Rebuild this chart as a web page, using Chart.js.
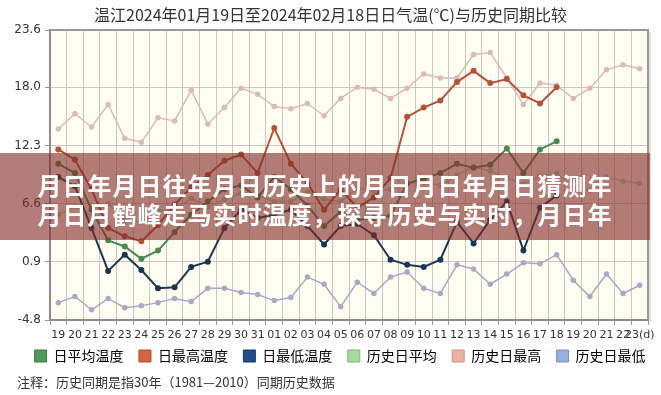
<!DOCTYPE html>
<html>
<head>
<meta charset="utf-8">
<script src="https://cdn.jsdelivr.net/npm/chart.js@4.4.1/dist/chart.umd.min.js"></script>
<style>
  body { margin: 0; background: #fff; }
  #wrap { position: relative; width: 661px; height: 395px; }
  #nota { position: absolute; left: 17px; top: 372px; font: 13px "Noto Sans CJK SC", sans-serif; color: #333; white-space: nowrap; }
  #banda { position: absolute; left: 0; top: 153px; width: 650px; height: 87px; box-sizing: border-box; padding-top: 17px;
           background: rgba(130, 45, 40, 0.62); color: #fff; font: bold 24px "Noto Sans CJK SC", sans-serif;
           line-height: 29px; text-align: center; letter-spacing: 1px; }
</style>
</head>
<body>
<div id="wrap">
  <canvas id="grafico" width="661" height="395"></canvas>
  <div id="banda">月日年月日往年月日历史上的月日月日年月日猜测年<br>月日月鹤峰走马实时温度，探寻历史与实时，月日年</div>
  <div id="nota">注释：历史同期是指30年（1981—2010）同期历史数据</div>
</div>
<script>
// dias: 19/01 .. 23/02
var dias = ['19', '20', '21', '22', '23', '24', '25', '26', '27', '28', '29', '30', '31',
    '01', '02', '03', '04', '05', '06', '07', '08', '09', '10', '11', '12', '13', '14', '15',
    '16', '17', '18', '19', '20', '21', '22', '23(d)'];
var yTicks = [-4.8, 0.9, 6.6, 12.3, 18.0, 23.6];

// 2024 (hasta 18/02)
var tempMedia = [10.5, 9.6, 6.0, 3.0, 2.4, 1.2, 2.0, 3.8, 5.5, 6.8, 8.0, 8.4, 7.2, 9.2, 8.0, 6.4,
    4.4, 5.8, 5.0, 5.2, 5.4, 8.6, 9.0, 9.6, 10.5, 10.1, 10.4, 12.0, 9.6, 11.9, 12.7];
var tempMax = [11.9, 10.9, 8.0, 4.2, 3.4, 2.9, 4.5, 6.5, 8.2, 9.4, 10.8, 11.4, 9.6, 14.0, 10.5, 8.6,
    6.0, 8.0, 6.2, 7.2, 9.1, 15.1, 16.0, 16.7, 18.5, 19.6, 18.4, 18.8, 17.2, 16.4, 18.0];
var tempMin = [9.2, 8.3, 4.2, 0.0, 1.6, 0.1, -1.7, -1.6, 0.4, 0.9, 4.2, 6.0, 5.2, 5.5, 6.0, 4.4,
    2.6, 4.4, 4.6, 3.5, 1.1, 0.6, 0.4, 1.1, 4.8, 2.7, 5.0, 6.8, 2.0, 6.2, 7.4];

// historico 1981-2010
var histMedia = [5.5, 6.3, 5.4, 6.6, 5.0, 4.8, 5.9, 6.0, 7.1, 6.3, 7.0, 7.6, 7.4, 6.8, 6.8, 7.7,
    7.0, 6.8, 8.1, 7.8, 8.0, 8.6, 8.7, 8.4, 9.4, 10.2, 9.8, 9.1, 8.5, 9.3, 9.6, 8.2, 7.9, 9.2, 8.8, 8.6];
var histMax = [13.9, 15.4, 14.1, 16.3, 13.0, 12.6, 15.0, 14.7, 17.7, 14.4, 16.0, 17.9, 17.3, 16.1, 15.9, 16.4,
    15.2, 16.9, 18.0, 17.8, 16.9, 17.9, 19.3, 18.9, 18.9, 21.2, 21.4, 18.9, 16.3, 18.4, 18.2, 16.9, 17.9, 19.7, 20.2, 19.8];
var histMin = [-3.1, -2.5, -3.8, -2.7, -3.6, -3.4, -3.1, -2.7, -3.0, -1.7, -1.7, -2.1, -2.3, -2.9, -2.6, -0.6,
    -1.3, -3.5, -1.1, -2.2, -0.6, -0.1, -1.7, -2.2, 0.6, 0.2, -1.3, -0.3, 0.8, 0.7, 1.6, -0.9, -2.5, -0.3, -2.2, -1.4];

var cajas = ['#4e9a5a', '#d4643f', '#1f4d8c', '#a8d8a0', '#eeb0a0', '#98b0e0'];
var bordes = ['#3d7a47', '#b04e2e', '#163a6a', '#7fb878', '#d09080', '#7890c0'];

function serie(nombre, datos, color, ancho, orden) {
    return {
        label: nombre,
        data: datos,
        borderColor: color,
        backgroundColor: color,
        borderWidth: ancho,
        pointRadius: 2,
        pointHoverRadius: 3,
        tension: 0,
        order: orden
    };
}

// fondo crema y marco del area
var marco = {
    id: 'marco',
    beforeDraw: function (chart) {
        var a = chart.chartArea, ctx = chart.ctx;
        ctx.save();
        ctx.fillStyle = '#fffdf2';
        ctx.fillRect(a.left, a.top, a.right - a.left, a.bottom - a.top);
        ctx.restore();
    },
    afterDraw: function (chart) {
        var a = chart.chartArea, ctx = chart.ctx;
        ctx.save();
        ctx.strokeStyle = '#999';
        ctx.lineWidth = 2;
        ctx.beginPath();
        ctx.moveTo(a.left, a.top);
        ctx.lineTo(a.right, a.top);
        ctx.lineTo(a.right, a.bottom);
        ctx.stroke();
        ctx.strokeStyle = 'rgba(0,0,0,0.12)';
        ctx.beginPath();
        ctx.moveTo(a.right + 2, a.top + 2);
        ctx.lineTo(a.right + 2, a.bottom + 2);
        ctx.stroke();
        ctx.restore();
    }
};

var ctx = document.getElementById('grafico').getContext('2d');
var myChart = new Chart(ctx, {
    type: 'line',
    data: {
        labels: dias,
        datasets: [
            serie('日平均温度', tempMedia, '#4a8a4f', 2, 0),
            serie('日最高温度', tempMax, '#b5533a', 2, 0),
            serie('日最低温度', tempMin, '#1e3550', 2, 0),
            serie('历史日平均', histMedia, '#b3d6aa', 1.5, 1),
            serie('历史日最高', histMax, '#d8bcb4', 1.5, 1),
            serie('历史日最低', histMin, '#a9a9c2', 1.5, 1)
        ]
    },
    options: {
        responsive: false,
        animation: false,
        layout: { padding: { left: 0, right: 0, top: 0, bottom: 22 } },
        plugins: {
            title: {
                display: true,
                text: '温江2024年01月19日至2024年02月18日日气温(℃)与历史同期比较',
                color: '#333',
                font: { family: '"Noto Sans CJK SC", sans-serif', size: 16, weight: 'normal' },
                padding: { top: 5, bottom: 5.8 }
            },
            legend: {
                position: 'bottom',
                align: 'end',
                labels: {
                    boxWidth: 12,
                    boxHeight: 12,
                    padding: 6,
                    color: '#222',
                    font: { family: '"Noto Sans CJK SC", sans-serif', size: 14 },
                    generateLabels: function (chart) {
                        return chart.data.datasets.map(function (d, i) {
                            return {
                                text: d.label + '   ',
                                fillStyle: cajas[i],
                                strokeStyle: bordes[i],
                                lineWidth: 1,
                                datasetIndex: i
                            };
                        });
                    }
                }
            },
            tooltip: { enabled: false }
        },
        scales: {
            x: {
                offset: true,
                grid: { offset: true, color: '#c8c8c8', tickLength: 5, tickColor: '#999' },
                border: { color: '#8c8c8c', width: 2 },
                ticks: {
                    autoSkip: false, maxRotation: 0, padding: 4,
                    color: '#333',
                    font: { family: '"DejaVu Sans", sans-serif', size: 11 }
                },
                afterFit: function (axis) { axis.height = 23; }
            },
            y: {
                min: -4.8,
                max: 23.6,
                grid: { color: '#c8c8c8', tickLength: 5, tickColor: '#999' },
                border: { color: '#8c8c8c', width: 2 },
                afterBuildTicks: function (axis) {
                    axis.ticks = yTicks.map(function (v) { return { value: v }; });
                },
                ticks: {
                    color: '#333',
                    padding: 4,
                    font: { family: '"DejaVu Sans", sans-serif', size: 12 },
                    callback: function (v) { return Number(v).toFixed(1); }
                },
                afterFit: function (axis) { axis.width = 50; }
            },
            // margen derecho vacio
            yDer: {
                position: 'right',
                grid: { display: false },
                border: { display: false },
                ticks: { display: false },
                afterFit: function (axis) { axis.width = 13; }
            }
        }
    },
    plugins: [marco]
});
</script>
</body>
</html>
